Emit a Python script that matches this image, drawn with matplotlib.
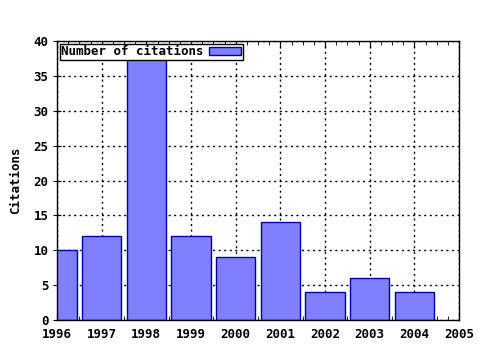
import matplotlib
matplotlib.use('Agg')
import matplotlib.pyplot as plt
from matplotlib.ticker import MultipleLocator

# Данные: число цитирований по годам
years = [1996, 1997, 1998, 1999, 2000, 2001, 2002, 2003, 2004]
citations = [10, 12, 38, 12, 9, 14, 4, 6, 4]
xticks = list(range(1996, 2006))
yticks = list(range(0, 45, 5))

plt.rcParams['font.family'] = 'DejaVu Sans Mono'
plt.rcParams['font.weight'] = 'bold'
plt.rcParams['axes.labelweight'] = 'bold'
plt.rcParams['font.size'] = 9

fig = plt.figure(figsize=(4.8, 3.5), dpi=100)
ax = fig.add_axes([57 / 480, 30 / 350, 402 / 480, 279 / 350])

ax.bar(years, citations, width=0.88, color='#8080ff', edgecolor='#0000a0',
       linewidth=1.0, label='Number of citations', zorder=2)

ax.set_xlim(1996, 2005)
ax.set_ylim(0, 40)
ax.set_xticks(xticks)
ax.set_yticks(yticks)
ax.xaxis.set_minor_locator(MultipleLocator(0.25))

ax.grid(True, which='major', linestyle=(0, (1.5, 2.5)), color='black', linewidth=1.0, zorder=0)
ax.set_axisbelow(True)

ax.tick_params(axis='x', which='both', top=True, direction='in', labelsize=9)
ax.tick_params(axis='x', which='major', length=5, pad=6)
ax.tick_params(axis='x', which='minor', length=3)
ax.tick_params(axis='y', which='major', direction='inout', length=6, labelsize=9, pad=3)
for s in ax.spines.values():
    s.set_linewidth(1.0)

ax.set_ylabel('Citations', fontsize=9, labelpad=8)

leg = ax.legend(loc='upper left', fancybox=False, framealpha=1, edgecolor='black',
                borderpad=0.1, handlelength=2.6, handleheight=0.6, handletextpad=0.4,
                borderaxespad=0.25, markerfirst=False, fontsize=9)
leg.get_frame().set_linewidth(1.0)

fig.savefig('out.png', dpi=100)
